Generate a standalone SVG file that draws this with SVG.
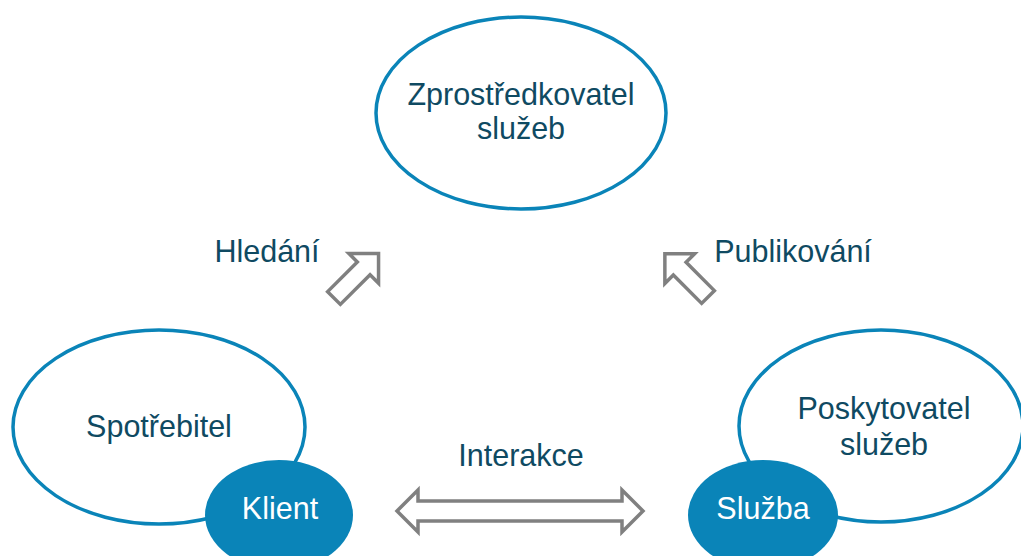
<svg xmlns="http://www.w3.org/2000/svg" width="1021" height="556" viewBox="0 0 1021 556">
<style>
.ring{fill:#ffffff;stroke:#0a84b8;stroke-width:3.5}
.solid{fill:#0a84b8;stroke:none}
.t{font-family:"Liberation Sans",Arial,Helvetica,sans-serif;font-size:30.5px;fill:#0f4a62;text-anchor:middle}
.w{fill:#ffffff}
.arr{fill:#ffffff;stroke:#808080;stroke-width:3.5;stroke-linejoin:miter}
</style>
<rect width="1021" height="556" fill="#ffffff"/>
<g id="broker">
<ellipse class="ring" cx="521" cy="113" rx="145" ry="96"/>
<text class="t" x="521" y="105">Zprostředkovatel</text>
<text class="t" x="521" y="139">služeb</text>
</g>
<g id="consumer">
<ellipse class="ring" cx="159" cy="427" rx="146" ry="97"/>
<text class="t" x="159" y="437">Spotřebitel</text>
</g>
<g id="provider">
<ellipse class="ring" cx="881" cy="426" rx="142" ry="96"/>
<text class="t" x="884" y="419">Poskytovatel</text>
<text class="t" x="884" y="455">služeb</text>
</g>
<g id="client">
<ellipse class="solid" cx="279" cy="515" rx="74" ry="55"/>
<text class="t w" x="280" y="519">Klient</text>
</g>
<g id="service">
<ellipse class="solid" cx="763" cy="515" rx="75" ry="55"/>
<text class="t w" x="763" y="519">Služba</text>
</g>
<g id="connectors">
<path class="arr" transform="translate(334,298) rotate(-45)" d="M0,-9 L42,-9 L42,-21 L63,0 L42,21 L42,9 L0,9 Z"/>
<path class="arr" transform="translate(708,297) rotate(-135)" d="M0,-9 L40,-9 L40,-21 L61,0 L40,21 L40,9 L0,9 Z"/>
<path class="arr" d="M397,511 L418,490 L418,501 L622,501 L622,490 L643,511 L622,532 L622,521 L418,521 L418,532 Z"/>
<text class="t" x="267" y="262">Hledání</text>
<text class="t" x="793" y="262">Publikování</text>
<text class="t" x="521" y="466">Interakce</text>
</g>
</svg>
